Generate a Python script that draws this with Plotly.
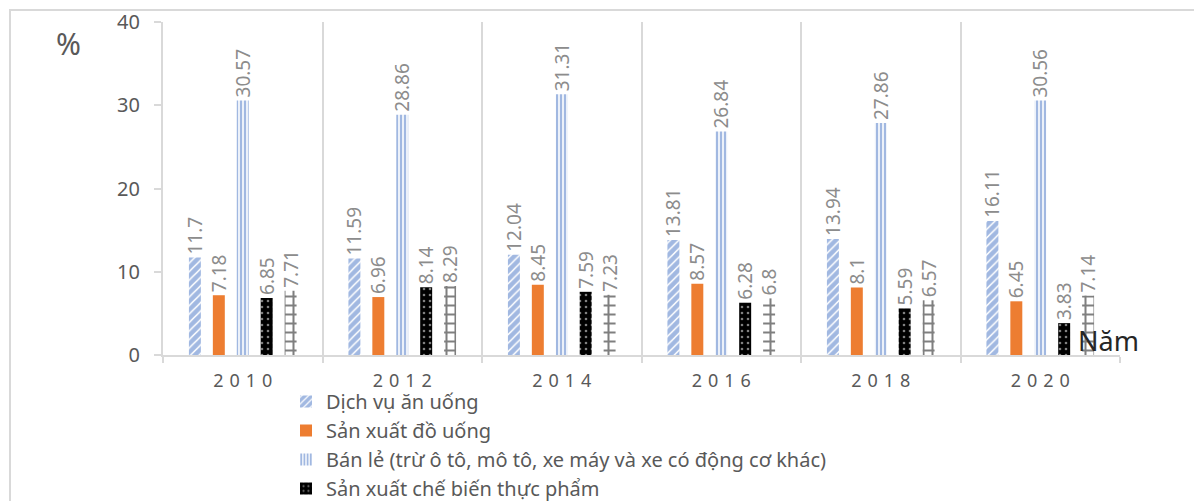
import plotly.graph_objects as go

# values (%)
years = ["2010", "2012", "2014", "2016", "2018", "2020"]
dich_vu_an_uong = [11.7, 11.59, 12.04, 13.81, 13.94, 16.11]
san_xuat_do_uong = [7.18, 6.96, 8.45, 8.57, 8.1, 6.45]
ban_le = [30.57, 28.86, 31.31, 26.84, 27.86, 30.56]
che_bien_thuc_pham = [6.85, 8.14, 7.59, 6.28, 5.59, 3.83]
series_5 = [7.71, 8.29, 7.23, 6.8, 6.57, 7.14]

names = [
    "Dịch vụ ăn uống",
    "Sản xuất đồ uống",
    "Bán lẻ (trừ ô tô, mô tô, xe máy và xe có động cơ khác)",
    "Sản xuất chế biến thực phẩm",
    "",
]

BLUE = "#4472C4"
ORANGE = "#ED7D31"
GRID = "#d9d9d9"
TEXT = "#595959"
LABEL = "#8c8c8c"
FONT = "Noto Sans, DejaVu Sans, sans-serif"

# the page body has an 8px margin, so the figure starts at (8, 8)
OFF = 8
W, H = 1202 - OFF, 501 - OFF
L, R, T, B = 163 - OFF, 1202 - 1120, 22 - OFF, 501 - 355
PW, PH = W - L - R, H - T - B


def px_x(x):
    return (x - OFF - L) / PW


def px_y(y):
    return (H - B - (y - OFF)) / PH


styles = [
    dict(color="white", line=dict(width=0),
         pattern=dict(shape="/", fgcolor=BLUE, bgcolor="white", size=6, solidity=0.75)),
    dict(color=ORANGE, line=dict(width=0)),
    dict(color="white", line=dict(width=0),
         pattern=dict(shape="|", fgcolor=BLUE, bgcolor="white", size=4, solidity=0.6)),
    dict(color="black", line=dict(width=0),
         pattern=dict(shape=".", fgcolor="white", bgcolor="black", size=6, solidity=0.15)),
    dict(color="white", line=dict(width=0),
         pattern=dict(shape="+", fgcolor="black", bgcolor="white", size=9, solidity=0.4)),
]

fig = go.Figure()
for i, vals in enumerate([dich_vu_an_uong, san_xuat_do_uong, ban_le,
                          che_bien_thuc_pham, series_5]):
    fig.add_trace(go.Bar(
        x=years, y=vals, name=names[i],
        marker=styles[i],
        text=[str(v) for v in vals],
        textposition="outside", textangle=-90, constraintext="none",
        textfont=dict(family=FONT, size=19, color=LABEL),
        cliponaxis=False,
        legendgroup=f"g{i}",
        showlegend=i < 4,
    ))

fig.update_layout(
    width=W, height=H,
    margin=dict(l=L, r=R, t=T, b=B, autoexpand=False),
    paper_bgcolor="white", plot_bgcolor="white",
    barmode="group", bargap=0.25, bargroupgap=0.5,
    font=dict(family=FONT, color=TEXT),
    showlegend=True,
    legend=dict(
        x=px_x(286), y=px_y(382), xanchor="left", yanchor="top",
        bgcolor="rgba(0,0,0,0)", font=dict(size=20, color=TEXT),
        tracegroupgap=0, itemwidth=30,
    ),
    xaxis=dict(
        type="category", tickson="boundaries",
        tickvals=years, ticktext=["\u2004".join(y) for y in years],
        showgrid=True, gridcolor=GRID, gridwidth=2,
        showline=True, linecolor=GRID, linewidth=2,
        ticks="outside", ticklen=6, tickcolor=GRID, tickwidth=2,
        ticklabelstandoff=8,
        tickfont=dict(size=18, color=TEXT),
    ),
    yaxis=dict(
        range=[0, 40], tickvals=[0, 10, 20, 30, 40],
        showgrid=False, zeroline=False,
        showline=True, linecolor=GRID, linewidth=2,
        ticks="outside", ticklen=7, tickcolor=GRID, tickwidth=2,
        ticklabelstandoff=10,
        tickfont=dict(size=20, color=TEXT),
    ),
    annotations=[
        dict(text="%", xref="paper", yref="paper", x=px_x(68), y=px_y(44),
             xanchor="center", yanchor="middle",
             showarrow=False, font=dict(size=30, color=TEXT)),
        dict(text="Năm", xref="paper", yref="paper", x=px_x(1108), y=px_y(340),
             xanchor="center", yanchor="middle",
             showarrow=False, font=dict(size=27, color="#262626")),
    ],
    shapes=[
        dict(type="rect", xref="paper", yref="paper",
             x0=px_x(10), x1=px_x(1199), y0=px_y(530), y1=px_y(10),
             line=dict(color=GRID, width=2), layer="below"),
    ],
)

fig.write_html("out.html")
